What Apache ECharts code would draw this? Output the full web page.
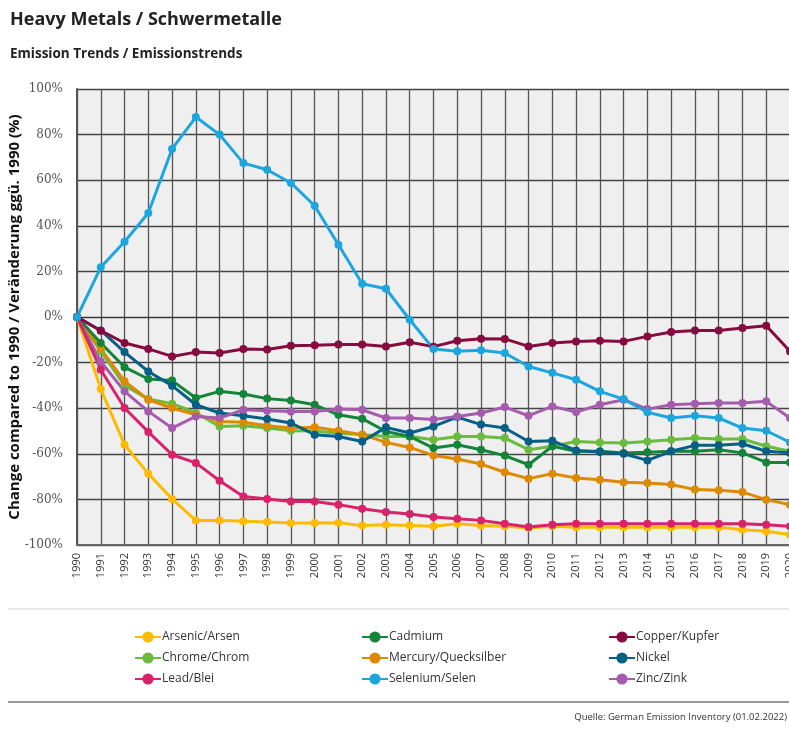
<!DOCTYPE html>
<html>
<head>
<meta charset="utf-8">
<script src="https://cdn.jsdelivr.net/npm/echarts@6/dist/echarts.min.js"></script>
<style>html,body{margin:0;padding:0;background:#fff;}#c{width:789px;height:731px;}</style>
</head>
<body>
<div id="c"></div>
<script>
const years = ['1990','1991','1992','1993','1994','1995','1996','1997','1998','1999','2000','2001','2002','2003','2004','2005','2006','2007','2008','2009','2010','2011','2012','2013','2014','2015','2016','2017','2018','2019','2020'];
const yTicks = [-100, -80, -60, -40, -20, 0, 20, 40, 60, 80, 100];

const arsenic  = [0,-31.6,-56,-68.7,-79.8,-89.3,-89.2,-89.6,-89.9,-90.4,-90.4,-90.2,-91.5,-91.1,-91.4,-91.8,-90.7,-91.4,-91.8,-92.5,-91.8,-92.2,-92.2,-92.2,-92.2,-92.2,-92.2,-92.2,-93.3,-94,-95.5];
const cadmium  = [0,-11.4,-22,-27.2,-27.9,-35.5,-32.6,-33.8,-35.8,-36.6,-38.5,-42.9,-44.6,-50.2,-52.4,-57.5,-56,-58.2,-60.8,-64.8,-56.7,-58.9,-58.9,-59.6,-59.3,-58.9,-58.9,-58.2,-59.6,-63.8,-63.8];
const copper   = [0,-6,-11.4,-14,-17.3,-15.4,-15.8,-14,-14.3,-12.6,-12.4,-12.1,-12.1,-12.9,-11.1,-13,-10.4,-9.5,-9.6,-12.9,-11.4,-10.7,-10.4,-10.7,-8.5,-6.6,-5.9,-5.9,-4.8,-3.8,-15];
const chrome   = [0,-15,-30,-36,-38,-42,-48,-47.7,-48.7,-49.9,-50,-51,-51.5,-52.4,-52.4,-53.8,-52.4,-52.4,-53.1,-58.2,-56.7,-54.6,-55,-55.3,-54.6,-53.8,-53.1,-53.5,-53.5,-56.7,-58.9];
const mercury  = [0,-14,-28.2,-36.3,-39.9,-42.9,-45.8,-46.2,-47.7,-48.7,-48.4,-49.9,-51.6,-55,-57.2,-60.7,-62.3,-64.5,-68.1,-70.9,-68.7,-70.6,-71.4,-72.5,-72.8,-73.5,-75.7,-76,-76.8,-80.1,-82.3];
const nickel   = [0,-5.9,-15.4,-23.9,-30.1,-38.5,-42.1,-43.3,-44.7,-46.5,-51.6,-52.4,-54.6,-48.4,-50.9,-48,-43.9,-47.2,-48.7,-54.6,-54.3,-58.5,-59.2,-60,-62.9,-58.9,-56.3,-56.3,-55.6,-58.9,-59.6];
const lead     = [0,-23.1,-39.9,-50.4,-60.4,-64,-71.8,-78.7,-79.8,-80.9,-80.9,-82.3,-84.1,-85.5,-86.4,-87.7,-88.5,-89.2,-90.7,-92.1,-91.1,-90.7,-90.7,-90.7,-90.7,-90.7,-90.7,-90.7,-90.7,-91.1,-91.8];
const selenium = [0,21.8,33,45.6,73.7,87.7,80,67.5,64.6,58.8,48.8,31.7,14.6,12.4,-1.2,-14,-15,-14.6,-15.8,-21.7,-24.5,-27.5,-32.6,-36,-41.8,-44.3,-43.3,-44.3,-48.7,-49.9,-55];
const zinc     = [0,-19.5,-32.6,-41.4,-48.7,-43.6,-44.3,-40.7,-41.1,-41.4,-41.4,-40.4,-40.7,-44.3,-44.3,-45,-43.6,-42.1,-39.5,-43.3,-39.2,-41.7,-38.5,-36.3,-40.4,-38.5,-38,-37.7,-37.7,-37,-44.3];

const seriesDefs = [
  ['Arsenic/Arsen', arsenic, '#FDBB00'],
  ['Cadmium', cadmium, '#13853A'],
  ['Copper/Kupfer', copper, '#860B3E'],
  ['Chrome/Chrom', chrome, '#6BBB3E'],
  ['Mercury/Quecksilber', mercury, '#DD8A00'],
  ['Nickel', nickel, '#065F85'],
  ['Lead/Blei', lead, '#D8226A'],
  ['Selenium/Selen', selenium, '#1BA6DE'],
  ['Zinc/Zink', zinc, '#A65CAE']
];

const chart = echarts.init(document.getElementById('c'), null, {renderer: 'canvas'});
const font = '"Open Sans", "DejaVu Sans", sans-serif';

const series = seriesDefs.map(([name, data, color]) => ({
  name, type: 'line', data, xAxisIndex: 0, yAxisIndex: 0,
  symbol: 'circle', symbolSize: 8, showSymbol: true,
  lineStyle: {width: 3, color}, itemStyle: {color},
  emphasis: {disabled: true}, animation: false, z: 3
}));
const order = ['Chrome/Chrom','Mercury/Quecksilber','Cadmium','Nickel','Zinc/Zink','Arsenic/Arsen','Lead/Blei','Copper/Kupfer','Selenium/Selen'];
series.sort((a,b) => order.indexOf(a.name) - order.indexOf(b.name));

function legendCol(left, names) {
  return {
    left, top: 626, orient: 'vertical', itemGap: 9,
    itemWidth: 26, itemHeight: 14,
    data: names,
    textStyle: {fontFamily: font, fontSize: 12, color: '#333', padding: [0,0,0,-4]},
    selectedMode: false
  };
}

chart.setOption({
  backgroundColor: '#ffffff',
  animation: false,
  title: [
    {text: 'Heavy Metals / Schwermetalle', left: 5, top: 6,
     textStyle: {fontFamily: font, fontSize: 18, fontWeight: 'bold', color: '#222'}},
    {text: 'Emission Trends / Emissionstrends', left: 5, top: 42,
     textStyle: {fontFamily: font, fontSize: 13.5, fontWeight: 'bold', color: '#222'}}
  ],
  legend: [
    legendCol(129, ['Arsenic/Arsen','Chrome/Chrom','Lead/Blei']),
    legendCol(356, ['Cadmium','Mercury/Quecksilber','Selenium/Selen']),
    legendCol(603, ['Copper/Kupfer','Nickel','Zinc/Zink'])
  ],
  grid: {
    left: 77, top: 89, width: 713, height: 456,
    outerBoundsMode: 'none', containLabel: false,
    show: true, backgroundColor: '#efefef', borderWidth: 0
  },
  xAxis: [
    {
      type: 'category', data: years, boundaryGap: false, position: 'bottom',
      axisLine: {onZero: false, lineStyle: {color: '#666', width: 2}},
      axisTick: {show: false},
      axisLabel: {rotate: 90, interval: 0, margin: 8, fontFamily: font, fontSize: 11, color: '#333'},
      splitLine: {show: true, interval: 0, lineStyle: {color: '#555', width: 1.3}}
    },
    {
      type: 'category', data: years, boundaryGap: false, position: 'top',
      axisLine: {onZero: true, lineStyle: {color: '#333', width: 1.2}},
      axisTick: {show: true, inside: true, interval: 0, length: 4, lineStyle: {color: '#333'}},
      axisLabel: {show: false},
      splitLine: {show: false}
    }
  ],
  yAxis: {
    type: 'value', min: -100, max: 100, interval: 20,
    name: 'Change compared to 1990 / Veränderung ggü. 1990 (%)',
    nameLocation: 'middle', nameGap: 55, nameRotate: 90, nameMoveOverlap: false,
    nameTextStyle: {fontFamily: font, fontSize: 15, fontWeight: 'bold', color: '#111'},
    axisLine: {show: true, onZero: false, lineStyle: {color: '#555', width: 2}},
    axisTick: {show: false},
    axisLabel: {margin: 14, fontFamily: '"DejaVu Serif", serif', fontSize: 12, color: '#555',
      formatter: v => v + '%'},
    splitLine: {show: true, lineStyle: {color: '#444', width: 1.3}}
  },
  graphic: [
    {type: 'line', shape: {x1: 8, y1: 609, x2: 789, y2: 609}, style: {stroke: '#d0d0d0', lineWidth: 1}},
    {type: 'line', shape: {x1: 8, y1: 702, x2: 789, y2: 702}, style: {stroke: '#999', lineWidth: 2}},
    {type: 'text', right: 2, top: 712, style: {text: 'Quelle: German Emission Inventory (01.02.2022)', fontFamily: font, fontSize: 9.5, fill: '#333'}}
  ],
  series
});
</script>
</body>
</html>
